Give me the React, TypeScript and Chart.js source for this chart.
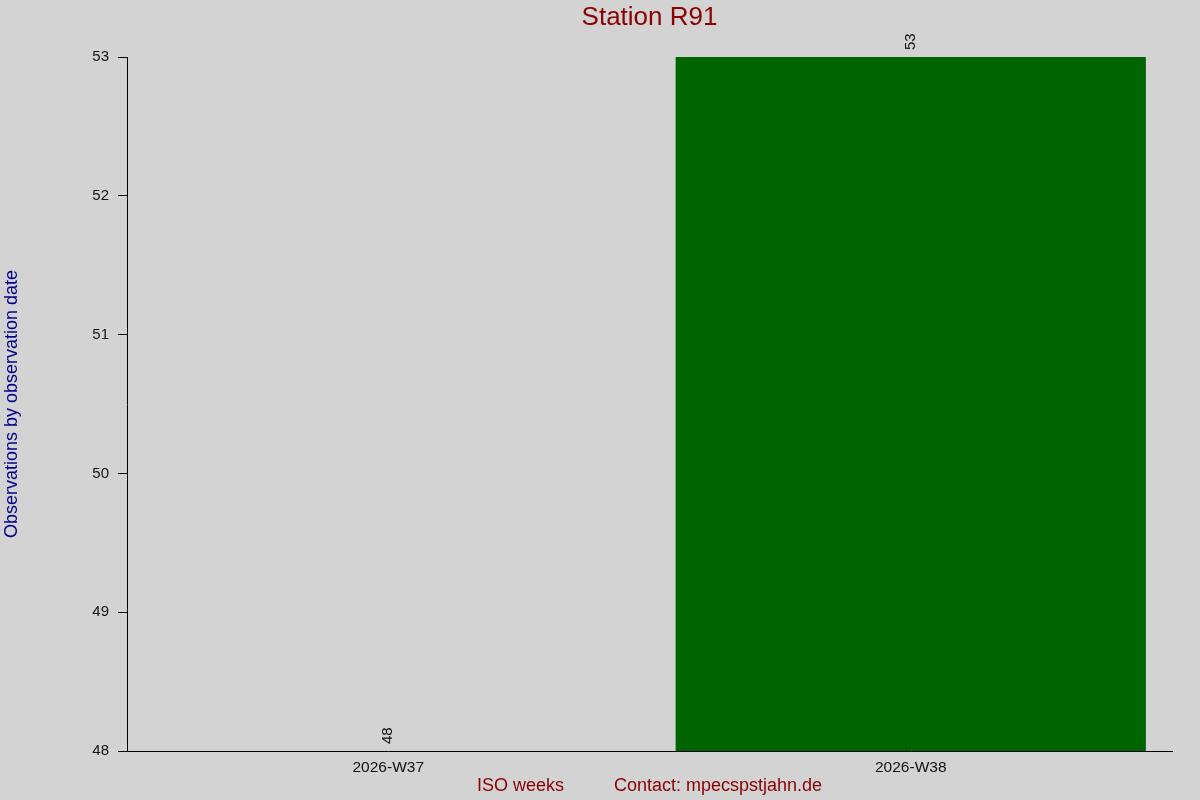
import { useEffect, useRef } from 'react'
import { Chart, registerables } from 'chart.js'

Chart.register(...registerables)

const weeks = ['2026-W37', '2026-W38']
const observations = [48, 53]
const yTicks = [48, 49, 50, 51, 52, 53]
const chartTitle = 'Station R91'

const FONT = '"Liberation Sans", Arial, sans-serif'

// paints the light grey page behind everything
const backgroundPlugin = {
  id: 'bgFill',
  beforeDraw(chart: Chart) {
    const ctx = chart.ctx
    ctx.save()
    ctx.fillStyle = '#d3d3d3'
    ctx.fillRect(0, 0, chart.width, chart.height)
    ctx.restore()
  }
}

// title centred over the plot area, not the whole canvas
const plotTitlePlugin = {
  id: 'plotTitle',
  afterDraw(chart: Chart) {
    const ctx = chart.ctx
    const { left, right } = chart.chartArea
    ctx.save()
    ctx.font = `26px ${FONT}`
    ctx.fillStyle = '#8b0000'
    ctx.textAlign = 'center'
    ctx.textBaseline = 'middle'
    ctx.fillText(chartTitle, (left + right) / 2, 18)
    ctx.restore()
  }
}

// vertical value labels sitting on top of each bar
const valueLabelPlugin = {
  id: 'valueLabels',
  afterDatasetsDraw(chart: Chart) {
    const ctx = chart.ctx
    const meta = chart.getDatasetMeta(0)
    ctx.save()
    ctx.font = `15px ${FONT}`
    ctx.fillStyle = '#111111'
    ctx.textAlign = 'left'
    ctx.textBaseline = 'middle'
    meta.data.forEach((bar: any, i: number) => {
      ctx.save()
      ctx.translate(bar.x, bar.y - 7)
      ctx.rotate(-Math.PI / 2)
      ctx.fillText(String(observations[i]), 0, 0)
      ctx.restore()
    })
    ctx.restore()
  }
}

export default function App() {
  const canvasRef = useRef<HTMLCanvasElement>(null)
  const chartRef = useRef<Chart | null>(null)

  useEffect(() => {
    document.body.style.margin = '0'
    if (!canvasRef.current) return
    if (chartRef.current) chartRef.current.destroy()

    const ctx = canvasRef.current.getContext('2d')
    if (!ctx) return

    chartRef.current = new Chart(ctx, {
      type: 'bar',
      data: {
        labels: weeks,
        datasets: [
          {
            label: 'Observations',
            data: observations,
            backgroundColor: '#006400',
            borderWidth: 0,
            categoryPercentage: 0.9,
            barPercentage: 1.0
          }
        ]
      },
      options: {
        animation: false,
        responsive: true,
        maintainAspectRatio: false,
        layout: {
          padding: { top: 57, right: 28, bottom: 0, left: 0 }
        },
        plugins: {
          legend: { display: false },
          tooltip: { enabled: false },
          title: { display: false }
        },
        scales: {
          x: {
            grid: { display: false, drawTicks: false },
            border: { display: true, color: '#000000', width: 1 },
            ticks: {
              color: '#111111',
              font: { family: FONT, size: 15.5 },
              padding: 7,
              maxRotation: 0
            },
            title: {
              display: true,
              text: 'ISO weeks          Contact: mpecspstjahn.de',
              color: '#8b0000',
              font: { family: FONT, size: 18 },
              padding: { top: 0, bottom: 3 }
            },
            afterFit(scale: any) {
              scale.height = 49
            }
          },
          y: {
            min: 48,
            max: 53,
            afterBuildTicks(scale: any) {
              scale.ticks = yTicks.map((v) => ({ value: v }))
            },
            grid: {
              display: true,
              drawOnChartArea: false,
              drawTicks: true,
              tickLength: 9,
              color: '#000000'
            },
            border: { display: true, color: '#000000', width: 1 },
            ticks: {
              color: '#111111',
              font: { family: FONT, size: 15 },
              padding: 9
            },
            title: {
              display: true,
              text: 'Observations by observation date',
              color: '#00008b',
              font: { family: FONT, size: 18 },
              padding: { top: 1, bottom: 0 }
            },
            afterFit(scale: any) {
              scale.width = 127
            }
          }
        }
      },
      plugins: [backgroundPlugin, valueLabelPlugin, plotTitlePlugin]
    })

    return () => {
      if (chartRef.current) chartRef.current.destroy()
      chartRef.current = null
    }
  }, [])

  return (
    <div style={{ position: 'fixed', left: 0, top: 0, width: 1200, height: 800 }}>
      <canvas ref={canvasRef} />
    </div>
  )
}
